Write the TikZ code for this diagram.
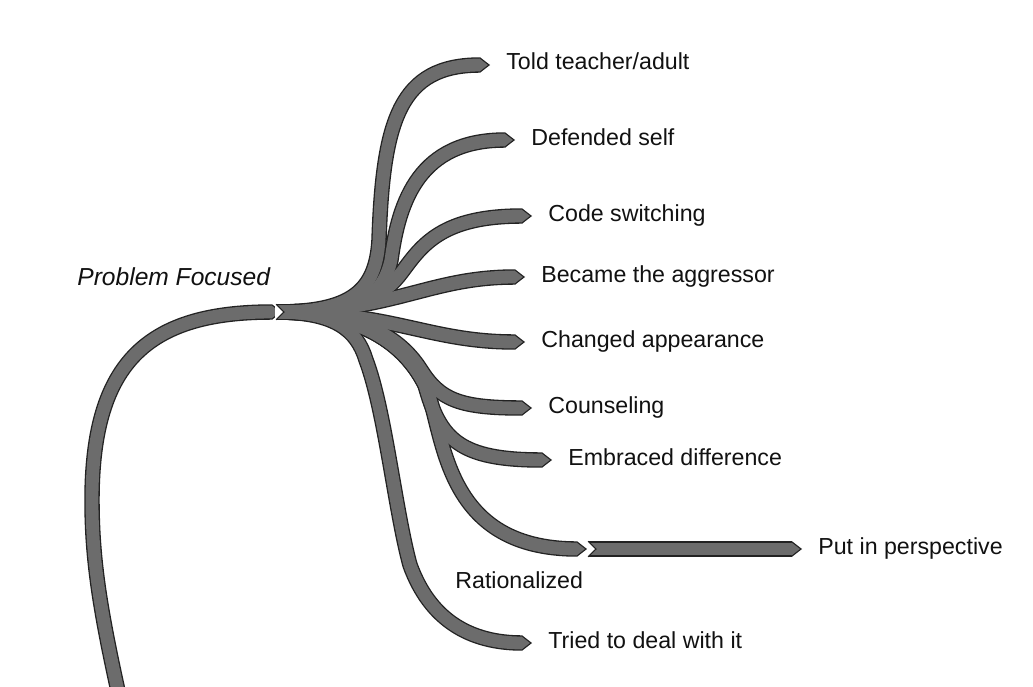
\documentclass[tikz,border=0pt]{standalone}
\usepackage{fontspec}
\setmainfont{Liberation Sans}
\usetikzlibrary{calc}

\definecolor{ribfill}{RGB}{108,108,108}
\definecolor{ribedge}{RGB}{34,34,34}
\definecolor{labelink}{RGB}{17,17,17}

% All ribbon centre lines; drawn twice (dark edge pass, then grey core pass)
\newcommand\ribbonpaths[1]{%
  % main stem rising from below the frame
  \draw[#1] (stemfoot) .. controls (100,610) and (92,560) .. (92,500)
     .. controls (92,360) and (150,312) .. (stemend);
  % fan of branches leaving the hub
  \draw[#1] (hub) .. controls (350,312) and (376,292) .. (379,240)
     .. controls (383,120) and (400,65) .. (told);
  \draw[#1] (hub) .. controls (355,312) and (382,300) .. (391,260)
     .. controls (399,200) and (420,140) .. (defended);
  \draw[#1] (hub) .. controls (360,312) and (384,296) .. (402,272)
     .. controls (422,245) and (442,216) .. (code);
  \draw[#1] (hub) .. controls (395,312) and (428,277) .. (became);
  \draw[#1] (hub) .. controls (395,312) and (428,342) .. (changed);
  \draw[#1] (hub) .. controls (365,312) and (402,340) .. (421,370)
     .. controls (440,400) and (460,408) .. (counsel);
  \draw[#1] (hub) .. controls (362,312) and (405,345) .. (425,385)
     .. controls (440,440) and (460,460) .. (embraced);
  \draw[#1] (hub) .. controls (362,312) and (405,345) .. (425,385)
     .. controls (445,430) and (440,549) .. (ration);
  \draw[#1] (hub) .. controls (335,312) and (357,330) .. (366,360)
     .. controls (385,410) and (395,510) .. (410,565)
     .. controls (430,620) and (470,643) .. (tried);
  % second-level ribbon
  \draw[#1] (putstart) -- (put);
}
% Arrow points at every ribbon end
\newcommand\ribbontips[1]{%
  \foreach \tp in {stemend,told,defended,code,became,changed,counsel,embraced,ration,put,tried}
    \pic at (\tp) {#1};
}

\begin{document}
\begin{tikzpicture}[x=0.02cm,y=-0.02cm,
  ribbon edge/.style={draw=ribedge,line width=8.8pt},
  ribbon core/.style={draw=ribfill,line width=7.3pt},
  lbl/.style={font=\fontsize{13.2}{16}\selectfont,text=labelink,inner sep=0pt,anchor=base west},
  tipedge/.pic={\fill[ribedge] (0,-7.75) -- (10,0) -- (0,7.75) -- cycle;},
  tipcore/.pic={\fill[ribfill] (-0.42,-6.45) -- (7.92,0) -- (-0.42,6.45) -- cycle;},
  notchcut/.pic={\fill[white] (-1,-8.9) -- (8,0) -- (-1,8.9) -- cycle;
                 \draw[ribedge,line width=0.6pt] (0,-7.75) -- (8,0) -- (0,7.75);}
]
\useasboundingbox (0,0) rectangle (1033,686);
\fill[white] (0,0) rectangle (1033,686);
\clip (0,0) rectangle (1033,686);

% ribbon anchors
\coordinate (stemfoot) at (120,700);
\coordinate (stemend)  at (272,312);
\coordinate (hub)      at (276,312);
\coordinate (told)     at (480,65);
\coordinate (defended) at (505,140);
\coordinate (code)     at (522,216);
\coordinate (became)   at (515,277);
\coordinate (changed)  at (515,342);
\coordinate (counsel)  at (522,408);
\coordinate (embraced) at (542,460);
\coordinate (ration)   at (577,549);
\coordinate (putstart) at (588,549);
\coordinate (put)      at (792,549);
\coordinate (tried)    at (522,643);

% ribbons: dark rim first, grey body on top
\ribbonpaths{ribbon edge}
\ribbontips{tipedge}
\ribbonpaths{ribbon core}
\ribbontips{tipcore}

% notched starts of the continuing ribbons
\pic at (hub) {notchcut};
\pic at (putstart) {notchcut};

% labels
\node[lbl,font=\fontsize{14}{17}\selectfont\itshape] (l-pf) at (77,285) {Problem Focused};
\node[lbl] (l-told)     at ($(told)+(26,5)$)     {Told teacher/adult};
\node[lbl] (l-defended) at ($(defended)+(26,5)$) {Defended self};
\node[lbl] (l-code)     at ($(code)+(26,5)$)     {Code switching};
\node[lbl] (l-became)   at ($(became)+(26,5)$)   {Became the aggressor};
\node[lbl] (l-changed)  at ($(changed)+(26,5)$)  {Changed appearance};
\node[lbl] (l-counsel)  at ($(counsel)+(26,5)$)  {Counseling};
\node[lbl] (l-embraced) at ($(embraced)+(26,5)$) {Embraced difference};
\node[lbl] (l-put)      at ($(put)+(26,5)$)      {Put in perspective};
\node[lbl] (l-ration)   at (455,588)             {Rationalized};
\node[lbl] (l-tried)    at ($(tried)+(26,5)$)    {Tried to deal with it};
\end{tikzpicture}
\end{document}
